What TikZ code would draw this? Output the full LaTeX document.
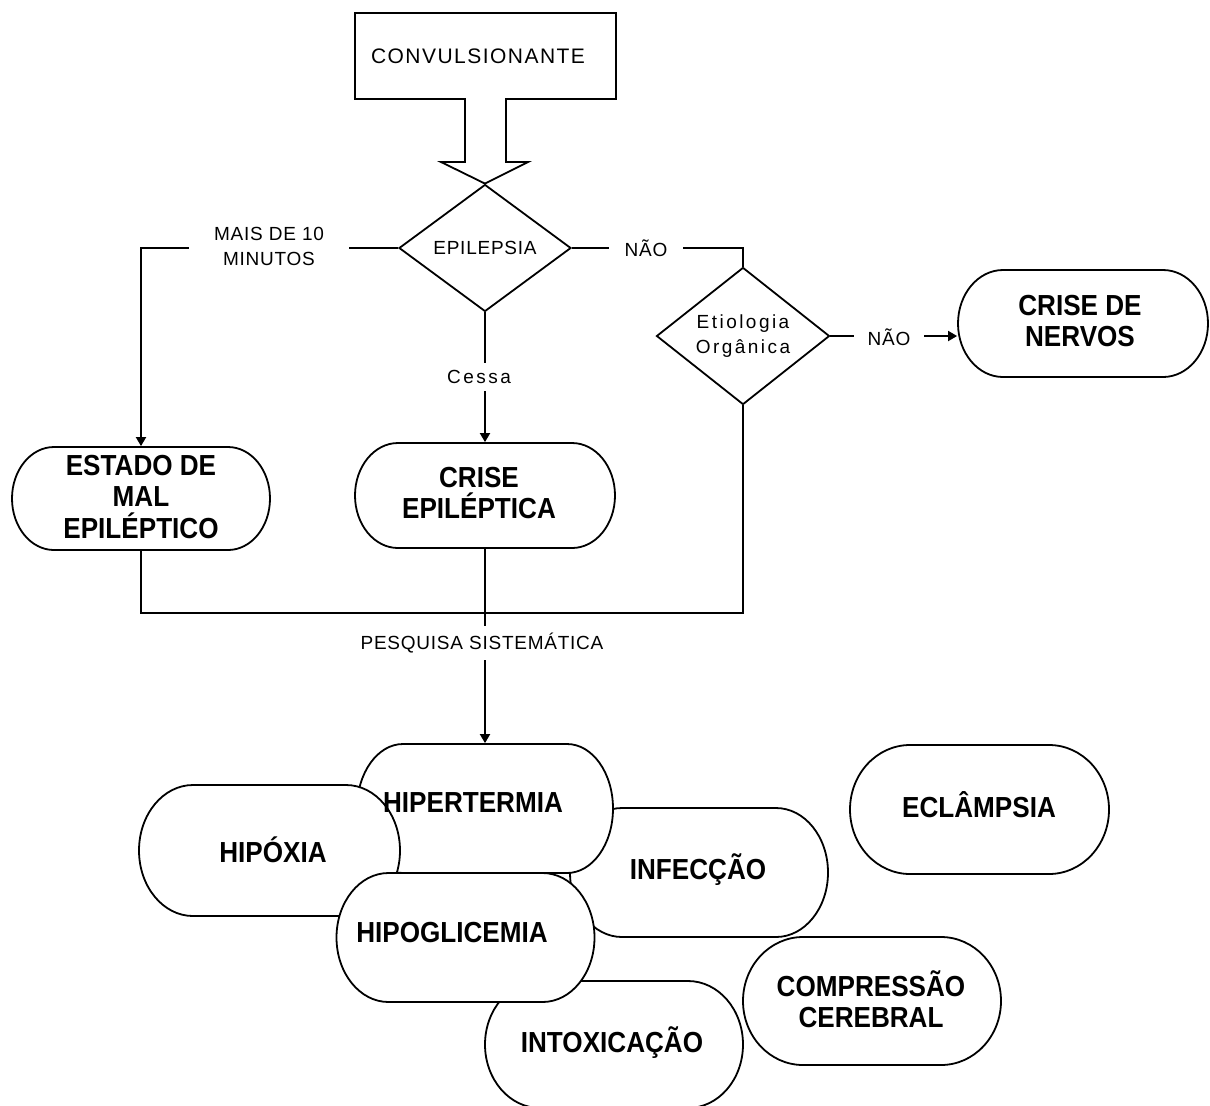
\documentclass[tikz,border=0pt]{standalone}
\usepackage{fontspec}
\setmainfont{Liberation Sans}
\newfontfamily\lblfont[LetterSpace=4]{Liberation Sans}
\newfontfamily\lblwide[LetterSpace=13]{Liberation Sans}
\newfontfamily\convfont[LetterSpace=7]{Liberation Sans}
\newfontfamily\capfont[FakeStretch=0.9]{Liberation Sans Bold}
\usetikzlibrary{arrows.meta,shapes.geometric}

% Terminator-like box: straight top and bottom, half-elliptic ends.
% #1 name, #2 centre x, #3 centre y, #4 width, #5 height, #6 end radius (px)
\newcommand\capsulebox[6]{%
  \pgfmathsetmacro\cpL{#2-#4/2}%
  \pgfmathsetmacro\cpR{#2+#4/2}%
  \pgfmathsetmacro\cpT{#3-#5/2}%
  \pgfmathsetmacro\cpB{#3+#5/2}%
  \pgfmathsetmacro\cpRx{#6}%
  \pgfmathsetmacro\cpRy{#5/2}%
  \pgfmathsetmacro\cpKx{0.5523*\cpRx}%
  \pgfmathsetmacro\cpKy{0.5523*\cpRy}%
  \filldraw[capsule] (\cpL+\cpRx,\cpT) -- (\cpR-\cpRx,\cpT)
    .. controls (\cpR-\cpRx+\cpKx,\cpT) and (\cpR,\cpT+\cpRy-\cpKy) .. (\cpR,#3)
    .. controls (\cpR,\cpB-\cpRy+\cpKy) and (\cpR-\cpRx+\cpKx,\cpB) .. (\cpR-\cpRx,\cpB)
    -- (\cpL+\cpRx,\cpB)
    .. controls (\cpL+\cpRx-\cpKx,\cpB) and (\cpL,\cpB-\cpRy+\cpKy) .. (\cpL,#3)
    .. controls (\cpL,\cpT+\cpRy-\cpKy) and (\cpL+\cpRx-\cpKx,\cpT) .. cycle;
  \node[boxarea, minimum width=#4*0.5pt, minimum height=#5*0.5pt] (#1) at (#2,#3) {};%
}

\begin{document}
\begin{tikzpicture}[x=0.5pt, y=-0.5pt, line width=0.9pt,
  capsule/.style={draw=black, fill=white},
  boxarea/.style={shape=rectangle, inner sep=0pt, draw=none},
  boxtext/.style={font=\capfont\fontsize{14.5pt}{15.75pt}\selectfont, align=center, inner sep=0pt},
  decision/.style={shape=diamond, draw, fill=white, inner sep=0pt,
    font=\lblfont\fontsize{9.5pt}{12.5pt}\selectfont, align=center},
  flowlabel/.style={fill=white, inner ysep=0pt, align=center,
    font=\lblfont\fontsize{9.5pt}{12.5pt}\selectfont},
  tip/.style={-{Triangle[length=4.5pt,width=5pt]}}]

\fill[white] (0,0) rectangle (1210,1105);
\useasboundingbox (0,0) rectangle (1210,1105);

% decisions
\node[decision, minimum width=86pt, minimum height=63.5pt] (epi) at (485,248) {EPILEPSIA};
\node[decision, minimum width=86.5pt, minimum height=64pt,
      font=\lblwide\fontsize{9.5pt}{12.5pt}\selectfont] (etio) at (743,336) {Etiologia\\Orgânica};

% block arrow at the top
\draw[fill=white, line join=miter] (355,13) -- (616,13) -- (616,99) -- (506,99) -- (506,162)
  -- (528,162) -- (epi.north) -- (441,162) -- (465,162) -- (465,99) -- (355,99) -- cycle;
\node[font=\convfont\fontsize{10.5pt}{12pt}\selectfont, inner sep=0pt] (conv) at (478,56) {CONVULSIONANTE};

% terminal boxes of the upper part
\capsulebox{estado}{141}{498.5}{258}{103}{42}
\capsulebox{crise}{485}{495.5}{260}{105}{43}
\capsulebox{nervos}{1083}{323.5}{250}{107}{45}

% causes, stacked in drawing order
\capsulebox{infec}{699}{872.5}{258}{129}{52}
\capsulebox{hiper}{485}{808.5}{256}{129}{46}
\capsulebox{hipox}{269.5}{850.5}{261}{131}{54}
\capsulebox{intox}{614}{1044.5}{258}{127}{55}
\capsulebox{hipog}{465.5}{937.5}{258}{129}{52}
\capsulebox{compr}{872}{1001}{258}{128}{60}
\capsulebox{eclam}{979.5}{809.5}{259}{129}{60}

% connectors
\coordinate (join) at (485,613);
\draw[tip] (epi.west) -| (estado.north);
\draw (epi.east) -| (etio.north);
\draw[tip] (etio.east) -- (etio.east -| nervos.west);
\draw[tip] (epi.south) -- (crise.north);
\draw (estado.south) |- (join) -| (etio.south);
\draw[tip] (crise.south) -- (hiper.north);

% connector labels
\node[flowlabel, inner xsep=12.5pt, inner ysep=1pt] (mais) at (269,246) {MAIS DE 10\\MINUTOS};
\node[flowlabel, inner xsep=8pt] (nao1) at (646,248) {NÃO};
\node[flowlabel, inner xsep=6.75pt] (nao2) at (889,337) {NÃO};
\node[flowlabel, inner xsep=1pt, inner ysep=3.5pt, font=\lblwide\fontsize{9.5pt}{12.5pt}\selectfont] (cessa) at (479,377) {Cessa};
\node[flowlabel, inner xsep=1pt, inner ysep=3.5pt] (pesq) at (482,643) {PESQUISA SISTEMÁTICA};

% box texts
\node[boxtext] (estado-t) at (141,497) {ESTADO DE\\MAL\\EPILÉPTICO};
\node[boxtext] (crise-t) at (479,493) {CRISE\\EPILÉPTICA};
\node[boxtext] (nervos-t) at (1080,321) {CRISE DE\\NERVOS};
\node[boxtext] (hiper-t) at (473,803) {HIPERTERMIA};
\node[boxtext] (hipox-t) at (273,850) {HIPÓXIA};
\node[boxtext] (infec-t) at (698,870) {INFECÇÃO};
\node[boxtext] (hipog-t) at (452,932) {HIPOGLICEMIA};
\node[boxtext] (eclam-t) at (979,805) {ECLÂMPSIA};
\node[boxtext] (intox-t) at (612,1043) {INTOXICAÇÃO};
\node[boxtext] (compr-t) at (871,999) {COMPRESSÃO\\CEREBRAL};

\end{tikzpicture}
\end{document}
